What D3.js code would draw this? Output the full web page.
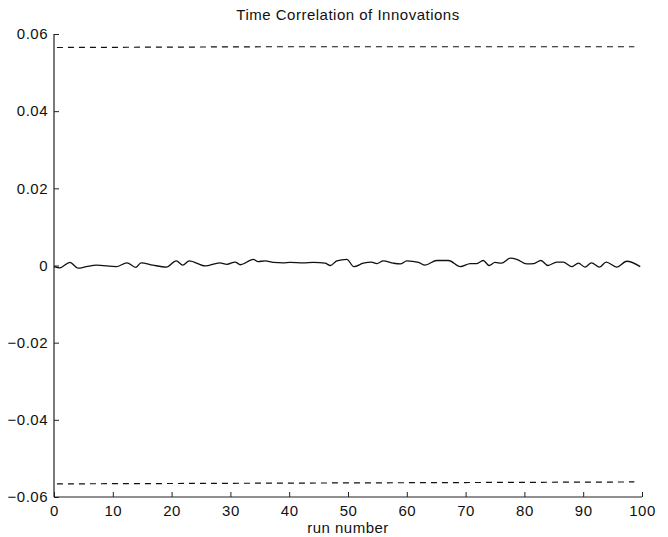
<!DOCTYPE html>
<html>
<head>
<meta charset="utf-8">
<script src="https://d3js.org/d3.v7.min.js"></script>
<style>
  body { margin: 0; background: #fff; }
  text { font-family: "Liberation Sans", Arial, sans-serif; fill: #111; letter-spacing: 0.5px; }
</style>
</head>
<body>
<script>
// solid line: run number and time correlation
let runs = [0, 1, 2.7, 4.1, 5.5, 7.2, 10.6, 12.4, 13.9, 14.8, 16.8, 19.1, 20.8, 21.9, 23, 25.7,
    28.2, 29.4, 30.8, 31.7, 33.9, 34.7, 35.9, 37.3, 39, 40.1, 42.4, 44.1, 46.1, 47, 48.1, 49.8,
    51, 52.6, 54, 54.9, 56, 57.7, 58.9, 60, 62, 63.1, 65.1, 67.1, 69.1, 70.8, 71.9, 73, 74,
    75, 76.1, 77.6, 78.7, 80.4, 81.6, 82.8, 84, 85.5, 86.6, 88, 89.2, 90.3, 91.4, 92.8, 93.9,
    95.7, 97.4, 99.7];
let corr = [-0.0003, -0.0006, 0.0008, -0.0007, -0.0003, 0.0001, -0.0003, 0.0007, -0.0005, 0.0007,
    0.0001, -0.0004, 0.0012, 0.0001, 0.0012, -0.0001, 0.0007, 0.0003, 0.0009, 0.0002, 0.0016,
    0.0010, 0.0012, 0.0008, 0.0007, 0.0008, 0.0007, 0.0008, 0.0006, 0.0000, 0.0012, 0.0016,
    -0.0003, 0.0006, 0.0009, 0.0005, 0.0012, 0.0006, 0.0004, 0.0012, 0.0008, 0.0001, 0.0013,
    0.0013, -0.0003, 0.0005, 0.0005, 0.0013, 0.0000, 0.0008, 0.0006, 0.0019, 0.0016, 0.0004,
    0.0005, 0.0013, 0.0000, 0.0009, 0.0009, -0.0003, 0.0006, -0.0004, 0.0007, -0.0004, 0.0009,
    -0.0004, 0.0011, -0.0003];

// dashed confidence bounds
let boundRuns = [0.5, 20, 40, 60, 80, 98.7];
let upper = [0.0565, 0.0566, 0.0567, 0.0567, 0.0567, 0.0567];
let lower = [-0.0566, -0.0565, -0.0564, -0.0563, -0.0562, -0.0561];

let xTicks = [0, 10, 20, 30, 40, 50, 60, 70, 80, 90, 100];
let yTicks = [-0.06, -0.04, -0.02, 0, 0.02, 0.04, 0.06];

let width = 668, height = 537;
let mLeft = 54, mRight = 642, mTop = 34, mBottom = 497;

let svg = d3.select("body").append("svg")
    .attr("width", width)
    .attr("height", height);

let x = d3.scaleLinear().domain([0, 100]).range([mLeft, mRight]);
let y = d3.scaleLinear().domain([-0.06, 0.06]).range([mBottom, mTop]);

// axes, ticks pointing inward
let xAxis = d3.axisBottom(x).tickValues(xTicks).tickSize(-5).tickPadding(8).tickFormat(d3.format("d"));
let yAxis = d3.axisLeft(y).tickValues(yTicks).tickSize(-5).tickPadding(6)
    .tickFormat(d => d === 0 ? "0" : d3.format(".2f")(d));

let gx = svg.append("g")
    .attr("transform", "translate(0," + mBottom + ")")
    .call(xAxis);
let gy = svg.append("g")
    .attr("transform", "translate(" + mLeft + ",0)")
    .call(yAxis);

[gx, gy].forEach(g => {
    g.select(".domain").attr("stroke", "#222").attr("stroke-width", 1.2);
    g.selectAll(".tick line").attr("stroke", "#222");
    g.selectAll(".tick text").style("font-size", "15px").attr("fill", "#111");
});
gx.select(".domain").attr("d", "M" + mLeft + ",0H" + mRight);
gy.select(".domain").attr("d", "M0," + mBottom + "V" + mTop);

let line = d3.line()
    .x(d => x(d[0]))
    .y(d => y(d[1]))
    .curve(d3.curveMonotoneX);

svg.append("path")
    .attr("d", line(runs.map((r, i) => [r, corr[i]])))
    .attr("fill", "none")
    .attr("stroke", "#111")
    .attr("stroke-width", 1.3);

[upper, lower].forEach(vals => {
    svg.append("path")
        .attr("d", line(boundRuns.map((r, i) => [r, vals[i]])))
        .attr("fill", "none")
        .attr("stroke", "#111")
        .attr("stroke-width", 1.2)
        .attr("stroke-dasharray", "6,5");
});

svg.append("text")
    .attr("x", (mLeft + mRight) / 2)
    .attr("y", 20)
    .style("text-anchor", "middle")
    .style("font-size", "15px")
    .text("Time Correlation of Innovations");

svg.append("text")
    .attr("x", (mLeft + mRight) / 2)
    .attr("y", 533)
    .style("text-anchor", "middle")
    .style("font-size", "15px")
    .text("run number");
</script>
</body>
</html>
